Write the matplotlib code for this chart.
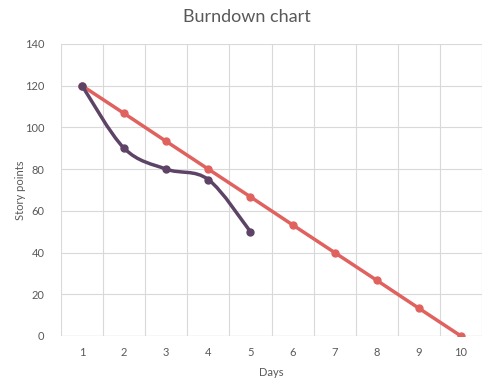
import matplotlib
matplotlib.use("Agg")
import matplotlib.pyplot as plt
from matplotlib.path import Path
from matplotlib.patches import PathPatch
import numpy as np

days = [1, 2, 3, 4, 5, 6, 7, 8, 9, 10]
ideal = [120, 106.7, 93.3, 80, 66.7, 53.3, 40, 26.7, 13.3, 0]
actual_days = [1, 2, 3, 4, 5]
actual = [120, 90, 80, 75, 50]

RED = "#E0625F"
PURPLE = "#5D4466"
GRID = "#D9D9D9"
TXT = "#595959"

plt.rcParams['font.family'] = ['Lato', 'DejaVu Sans']

fig = plt.figure(figsize=(4.93, 3.89), dpi=100)
W, H = 493, 389
ax = fig.add_axes([61 / W, 1 - 336 / H, (482 - 61) / W, (336 - 44) / H])
ax.set_xlim(0.5, 10.5)
ax.set_ylim(0, 140)

for s in ax.spines.values():
    s.set_visible(False)
ax.axhline(0, color=GRID, lw=1, zorder=1)
for yv in range(20, 141, 20):
    ax.axhline(yv, color=GRID, lw=0.8, zorder=0)
for xv in np.arange(0.5, 11, 1):
    ax.axvline(xv, color=GRID, lw=0.8, zorder=0)

ax.set_xticks(days)
ax.set_yticks(range(0, 141, 20))
ax.tick_params(length=0, labelsize=8, colors=TXT, pad=8)
ax.tick_params(axis='y', pad=12)

ax.plot(days, ideal, color=RED, lw=2.5, marker='o', ms=5, zorder=3,
        solid_capstyle='round')

# smooth (Catmull-Rom -> cubic Bezier) for actual
pts = np.column_stack([actual_days, actual]).astype(float)
verts = [tuple(pts[0])]
codes = [Path.MOVETO]
n = len(pts)
for i in range(n - 1):
    p0 = pts[i - 1] if i > 0 else pts[i]
    p1 = pts[i]
    p2 = pts[i + 1]
    p3 = pts[i + 2] if i + 2 < n else pts[i + 1]
    c1 = p1 + (p2 - p0) / 6
    c2 = p2 - (p3 - p1) / 6
    verts += [tuple(c1), tuple(c2), tuple(p2)]
    codes += [Path.CURVE4] * 3
ax.add_patch(PathPatch(Path(verts, codes), fill=False, edgecolor=PURPLE,
                       lw=2.5, zorder=4, capstyle='round'))
ax.plot(actual_days, actual, linestyle='none', marker='o', ms=5,
        color=PURPLE, zorder=5)

fig.text(0.5, 1 - 17 / H, "Burndown chart", ha='center', va='center',
         fontsize=13, color=TXT)
fig.text(20 / W, 1 - 190 / H, "Story points", rotation=90, ha='center',
         va='center', fontsize=8, color=TXT)
fig.text((61 + 482) / 2 / W, 1 - 372 / H, "Days", ha='center', va='center',
         fontsize=8, color=TXT)

fig.savefig("out.png", dpi=100, facecolor='white')
